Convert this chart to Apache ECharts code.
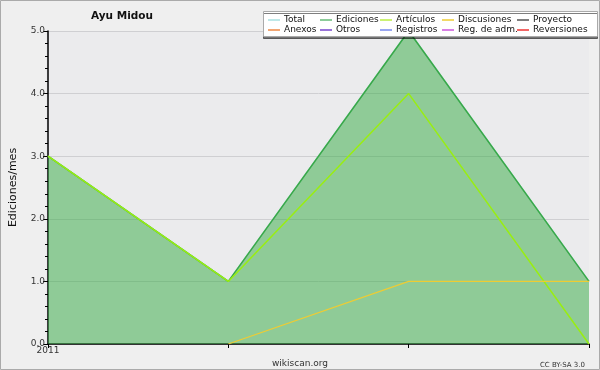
<!DOCTYPE html>
<html><head><meta charset="utf-8">
<script src="https://cdn.jsdelivr.net/npm/echarts@6/dist/echarts.min.js"></script>
<style>html,body{margin:0;padding:0;background:#efefef}#c{width:600px;height:370px}</style>
</head><body><div id="c"></div>
<script>
var categories = ["2011", "", "", ""];
var total = [3, 1, 5, 1];
var ediciones = [3, 1, 5, 1];
var articulos = [3, 1, 4, 0];
var discusiones = [null, 0, 1, 1];
var yTicks = [0, 1, 2, 3, 4, 5];
var legendNames = ["Total","Ediciones","Artículos","Discusiones","Proyecto","Anexos","Otros","Registros","Reg. de adm.","Reversiones"];
var legendColors = ["#a8e0e0","#66bb77","#bbee44","#eecc33","#555555","#ee8844","#7744cc","#7788ee","#cc55dd","#ee3333"];

var chart = echarts.init(document.getElementById('c'), null, {renderer:'canvas'});
var font = 'DejaVu Sans';
var colX = [268, 320, 380, 442, 517];
var rowY = [15.5, 25.5];
var legends = legendNames.map(function(n,i){
  return {data:[{name:n, itemStyle:{color:legendColors[i]}, lineStyle:{color:legendColors[i]}}],
    left: colX[i%5], top: rowY[Math.floor(i/5)], itemWidth:12, itemHeight:1.5, icon:'rect', itemGap:0, z:20,
    textStyle:{fontFamily:font, fontSize:9, color:'#111', padding:[0,0,0,-1]}, padding:0, selectedMode:false};
});
var seriesMap = {
  "Total": {data: total, z:2},
  "Ediciones": {data: ediciones, z:3, area:true},
  "Artículos": {data: articulos, z:4},
  "Discusiones": {data: discusiones, z:5}
};
var series = legendNames.map(function(n,i){
  var s = seriesMap[n] || {data:[null,null,null,null], z:1};
  var o = {name:n, type:'line', data:s.data, symbol:'none', z:s.z, connectNulls:false,
    itemStyle:{color:legendColors[i]},
    lineStyle:{color: n==="Ediciones" ? '#3aa848' : (n==="Artículos" ? '#99ee11' : legendColors[i]), width: n==="Discusiones"?1.2:1.5}};
  if (s.area) o.areaStyle = {color:'rgba(52,172,66,0.5)', opacity:1};
  return o;
});
chart.setOption({
  backgroundColor:'#efefef',
  animation:false,
  title:[
    {text:'Ayu Midou', left:86, top:6, textStyle:{fontFamily:font, fontSize:10.5, fontWeight:'bold', color:'#111'}},
    {text:'wikiscan.org', left:'center', top:354, textStyle:{fontFamily:font, fontSize:9, fontWeight:'normal', color:'#333'}},
    {text:'CC BY-SA 3.0', right:10, top:357, textStyle:{fontFamily:font, fontSize:7, fontWeight:'normal', color:'#333'}}
  ],
  legend: legends,
  graphic:[
    {type:'rect', shape:{x:0.5,y:0.5,width:599,height:369}, style:{fill:null, stroke:'#aaaaaa', lineWidth:1}, z:-10, silent:true},
    {type:'rect', shape:{x:46,y:31,width:543,height:313}, style:{fill:'#ebebed'}, z:-5, silent:true},
    {type:'rect', shape:{x:263.5,y:11.5,width:334,height:25}, style:{fill:'#ffffff', stroke:'#aaaaaa', lineWidth:1, shadowColor:'rgba(0,0,0,0.5)', shadowOffsetY:2, shadowBlur:0}, z:10, silent:true}
  ],
  grid:{left:46, right:11, top:31, bottom:26, containLabel:false},
  xAxis:{type:'category', data:categories, boundaryGap:false,
    axisLine:{lineStyle:{color:'#000', width:1.5}},
    axisTick:{show:true, interval:0, length:4, lineStyle:{color:'#000'}},
    axisLabel:{fontFamily:font, fontSize:9, color:'#333', margin:2, interval:0},
    splitLine:{show:false}},
  yAxis:{type:'value', min:0, max:5, interval:1,
    name:'Ediciones/mes', nameLocation:'middle', nameGap:29, nameTextStyle:{fontFamily:font, fontSize:11, color:'#111'},
    axisLine:{show:true, lineStyle:{color:'#000', width:1.5}},
    axisTick:{show:true, length:5, lineStyle:{color:'#000'}},
    minorTick:{show:true, splitNumber:5, length:3, lineStyle:{color:'#000'}},
    axisLabel:{fontFamily:font, fontSize:9, color:'#333', margin:3, formatter:function(v){return v.toFixed(1);}},
    splitLine:{show:true, lineStyle:{color:'#cfcfd2', width:1}}},
  series: series
});
</script></body></html>
